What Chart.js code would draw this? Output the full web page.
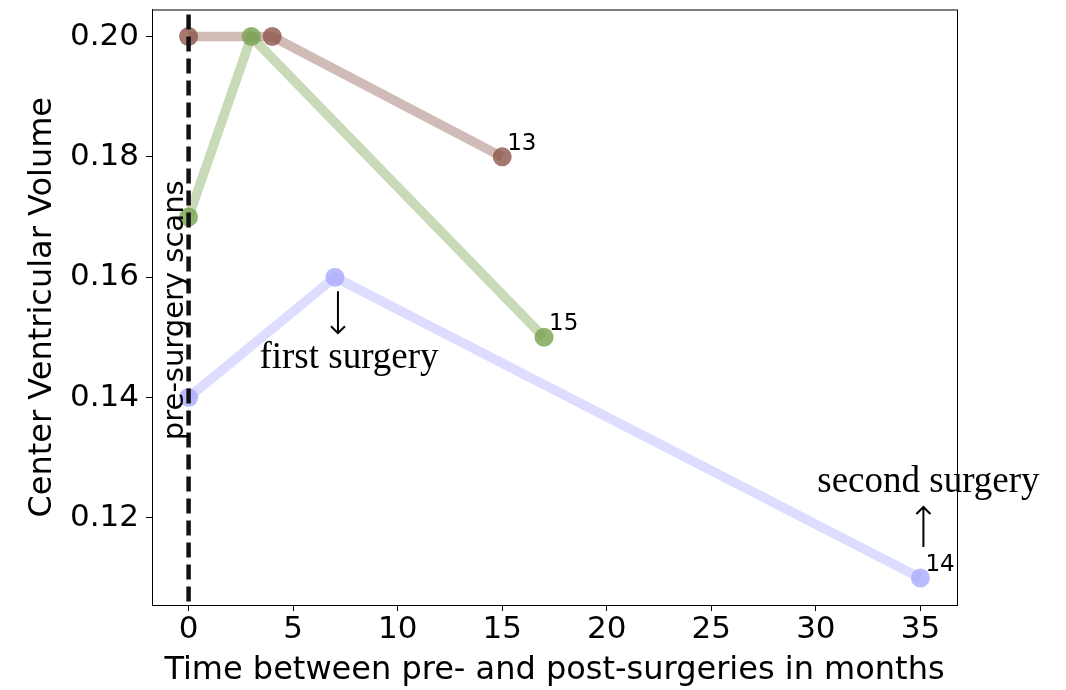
<!DOCTYPE html>
<html>
<head>
<meta charset="utf-8">
<script src="https://cdn.jsdelivr.net/npm/chart.js@4"></script>
<style>
  body { margin: 0; background: #fff; }
  #wrap { width: 1066px; height: 690px; }
</style>
</head>
<body>
<div id="wrap"><canvas id="myChart" width="1066" height="690"></canvas></div>
<script>
// series: months after surgery -> center ventricular volume
let brownX = [0, 4, 15];
let brownY = [0.20, 0.20, 0.18];
let greenX = [0, 3, 17];
let greenY = [0.17, 0.20, 0.15];
let purpleX = [0, 7, 35];
let purpleY = [0.14, 0.16, 0.11];

let xTicks = [0, 5, 10, 15, 20, 25, 30, 35];
let yTicks = [0.12, 0.14, 0.16, 0.18, 0.20];

let seriesNames = { brown: "13", green: "15", purple: "14" };

let colors = {
  brown: [140, 86, 75],
  green: [120, 162, 81],
  purple: [170, 170, 255]
};

function rgba(c, a) {
  return `rgba(${c[0]},${c[1]},${c[2]},${a})`;
}

function pts(xs, ys) {
  return xs.map((x, i) => ({ x, y: ys[i] }));
}

let series = [
  { key: "brown", data: pts(brownX, brownY) },
  { key: "green", data: pts(greenX, greenY) },
  { key: "purple", data: pts(purpleX, purpleY) }
];

let datasets = [];
series.forEach((s, i) => {
  // the thick faded line under everything
  datasets.push({
    type: "line",
    data: s.data,
    borderColor: rgba(colors[s.key], 0.4),
    borderWidth: 9.5,
    pointRadius: 0,
    fill: false,
    tension: 0,
    order: 10 + i
  });
  // the dots on top
  datasets.push({
    type: "scatter",
    data: s.data,
    backgroundColor: rgba(colors[s.key], 0.8),
    borderWidth: 0,
    pointRadius: 9.5,
    pointHoverRadius: 9.5,
    order: 3 - i
  });
});

function arrow(ctx, x, y1, y2, dir) {
  // thin stem with an open head at the y2 end
  ctx.beginPath();
  ctx.moveTo(x, y1);
  ctx.lineTo(x, y2);
  ctx.moveTo(x - 7, y2 - 7 * dir);
  ctx.lineTo(x, y2);
  ctx.lineTo(x + 7, y2 - 7 * dir);
  ctx.stroke();
}

let overlay = {
  id: "overlay",
  afterDatasetsDraw(chart) {
    let ctx = chart.ctx;
    let xs = chart.scales.x, ys = chart.scales.y;
    let a = chart.chartArea;
    ctx.save();

    // dashed line at the pre-surgery scans
    let x0 = xs.getPixelForValue(0);
    ctx.strokeStyle = "#111";
    ctx.lineWidth = 4.5;
    ctx.setLineDash([15, 7]);
    ctx.beginPath();
    ctx.moveTo(x0, a.top + 5);
    ctx.lineTo(x0, a.bottom);
    ctx.stroke();
    ctx.setLineDash([]);

    // frame
    ctx.strokeStyle = "#000";
    ctx.lineWidth = 1;
    ctx.strokeRect(a.left + 0.5, a.top + 0.5, a.right - a.left, a.bottom - a.top);

    ctx.fillStyle = "#000";

    // rotated label beside the dashed line
    ctx.save();
    ctx.translate(x0 - 6, ys.getPixelForValue(0.1545));
    ctx.rotate(-Math.PI / 2);
    ctx.font = "29px 'DejaVu Sans'";
    ctx.textAlign = "center";
    ctx.textBaseline = "alphabetic";
    ctx.fillText("pre-surgery scans", 0, 0);
    ctx.restore();

    // subject numbers at the last point of each series
    ctx.font = "23px 'DejaVu Sans'";
    ctx.textAlign = "left";
    ctx.textBaseline = "alphabetic";
    series.forEach(s => {
      let last = s.data[s.data.length - 1];
      let px = xs.getPixelForValue(last.x), py = ys.getPixelForValue(last.y);
      ctx.fillText(seriesNames[s.key], px + 5, py - 7);
    });

    // surgery notes
    ctx.font = "37px 'Liberation Serif'";
    ctx.textAlign = "center";
    let p1x = xs.getPixelForValue(purpleX[1]), p1y = ys.getPixelForValue(purpleY[1]);
    ctx.fillText("first surgery", p1x + 14, p1y + 91);
    let p2x = xs.getPixelForValue(purpleX[2]), p2y = ys.getPixelForValue(purpleY[2]);
    ctx.fillText("second surgery", p2x + 8, p2y - 86);

    ctx.strokeStyle = "#000";
    ctx.lineWidth = 2;
    arrow(ctx, p1x + 3, p1y + 14, p1y + 56, 1);
    arrow(ctx, p2x + 3, p2y - 31, p2y - 71, -1);

    ctx.restore();
  }
};

new Chart(document.getElementById("myChart"), {
  data: { datasets },
  options: {
    responsive: false,
    animation: false,
    layout: { padding: { left: 0, right: 109, top: 3, bottom: 0 } },
    plugins: { legend: { display: false }, tooltip: { enabled: false } },
    scales: {
      x: {
        type: "linear",
        min: -1.75,
        max: 36.75,
        afterBuildTicks: sc => { sc.ticks = xTicks.map(v => ({ value: v })); },
        afterFit: sc => { sc.height = 85; sc.paddingLeft = 0; sc.paddingRight = 0; },
        grid: { drawOnChartArea: false, drawTicks: true, tickLength: 6, color: "#000" },
        border: { display: true, color: "#000", width: 1 },
        ticks: { color: "#000", font: { family: "DejaVu Sans", size: 31 }, padding: 0, maxRotation: 0 },
        title: {
          display: true,
          text: "Time between pre- and post-surgeries in months",
          color: "#000",
          font: { family: "DejaVu Sans", size: 32 },
          padding: { top: 0, bottom: 0 }
        }
      },
      y: {
        type: "linear",
        min: 0.1055,
        max: 0.2045,
        afterBuildTicks: sc => { sc.ticks = yTicks.map(v => ({ value: v })); },
        afterFit: sc => { sc.width = 152; sc.paddingTop = 0; sc.paddingBottom = 0; },
        grid: { drawOnChartArea: false, drawTicks: true, tickLength: 6, color: "#000" },
        border: { display: true, color: "#000", width: 1 },
        ticks: {
          color: "#000",
          font: { family: "DejaVu Sans", size: 31 },
          padding: 7,
          callback: v => v.toFixed(2)
        },
        title: {
          display: true,
          text: "Center Ventricular Volume",
          color: "#000",
          font: { family: "DejaVu Sans", size: 32 },
          padding: { top: 23, bottom: 0 }
        }
      }
    }
  },
  plugins: [overlay]
});
</script>
</body>
</html>
